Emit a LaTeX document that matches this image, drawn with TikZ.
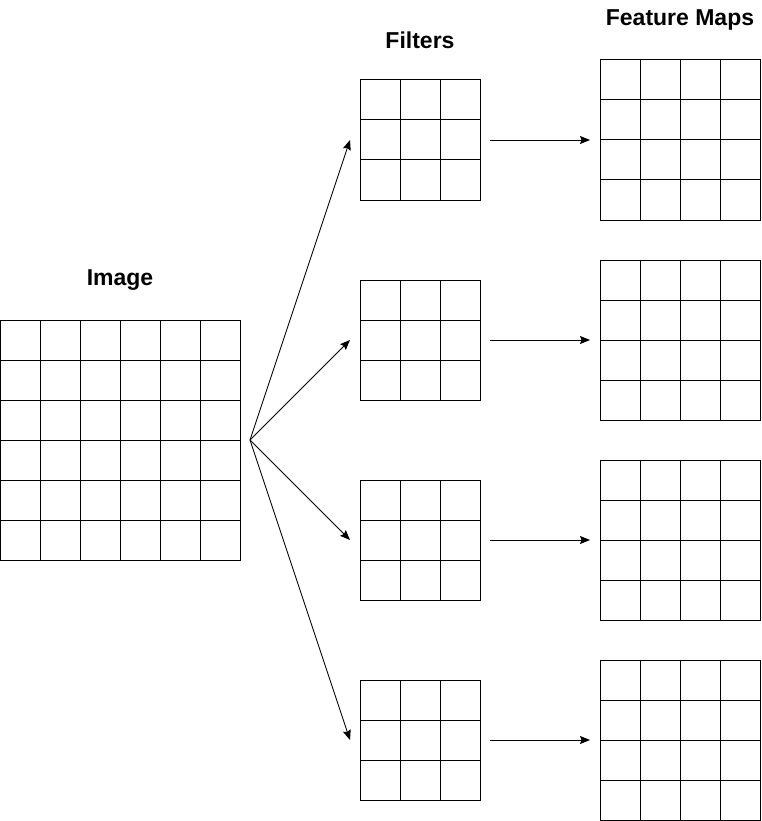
\documentclass[tikz,border=0pt]{standalone}
\usepackage{fontspec}
\setmainfont{Liberation Sans}
\usetikzlibrary{arrows.meta,positioning,calc}

\begin{document}
\begin{tikzpicture}[
    x=1pt, y=-1pt,
    gridbox/.style={rectangle, draw, line width=1pt, inner sep=0pt, outer sep=0pt},
    imgbox/.style={gridbox, minimum size=240pt},
    filtbox/.style={gridbox, minimum size=120pt},
    mapbox/.style={gridbox, minimum size=160pt},
    title/.style={font=\bfseries\fontsize{23}{26}\selectfont},
    arrow/.style={-{Stealth[length=10pt,width=8pt,inset=1.5pt]}, line width=0.9pt}
]
\useasboundingbox (0,0) rectangle (761,821);

% Nodes
\node[imgbox] (img) at (120,440) {};
\node[title] (imgtitle) at (120,280) {Image};
\node[title] (filttitle) at (420,40) {Filters};
\node[title] (maptitle) at (680,20) {Feature Maps};
\foreach \k/\fy/\my in {1/140/140, 2/340/340, 3/540/540, 4/740/740} {
    \node[filtbox] (f\k) at (420,\fy) {};
    \node[mapbox] (m\k) at (680,\my) {};
}

% Cell lines
\foreach \i in {1,...,5} {
    \draw[line width=1pt] ($(img.north west)+(\i*40,0)$) -- ++(0,240);
    \draw[line width=1pt] ($(img.north west)+(0,\i*40)$) -- ++(240,0);
}
\foreach \k in {1,...,4} {
    \foreach \i in {1,2} {
        \draw[line width=1pt] ($(f\k.north west)+(\i*40,0)$) -- ++(0,120);
        \draw[line width=1pt] ($(f\k.north west)+(0,\i*40)$) -- ++(120,0);
    }
    \foreach \i in {1,2,3} {
        \draw[line width=1pt] ($(m\k.north west)+(\i*40,0)$) -- ++(0,160);
        \draw[line width=1pt] ($(m\k.north west)+(0,\i*40)$) -- ++(160,0);
    }
}

% Arrows
\foreach \k in {1,...,4} {
    \draw[arrow] ([xshift=10pt]img.east) -- ([xshift=-10pt]f\k.west);
    \draw[arrow] ([xshift=10pt]f\k.east) -- ([xshift=-10pt]m\k.west);
}

\end{tikzpicture}
\end{document}
